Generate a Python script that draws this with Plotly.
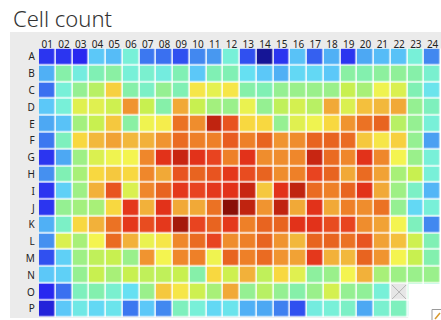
import plotly.graph_objects as go

# Plate layout: 16 rows (A-P) x 24 columns (01-24)
rows = list("ABCDEFGHIJKLMNOP")
cols = [f"{i:02d}" for i in range(1, 25)]

# Cell counts per well, on a 0-100 relative scale (None = empty well)
row_A = [11, 11, 10, 29, 27, 36, 18, 17, 13, 20, 22, 36, 13, 2, 11, 28, 15, 25, 11, 24, 27, 28, 36, 20]
row_B = [25, 42, 35, 40, 43, 36, 37, 35, 40, 29, 40, 40, 32, 29, 25, 31, 31, 29, 43, 41, 44, 45, 42, 37]
row_C = [17, 36, 46, 52, 67, 42, 38, 46, 40, 64, 59, 64, 42, 40, 46, 47, 47, 47, 54, 50, 61, 57, 40, 33]
row_D = [29, 36, 58, 58, 55, 75, 54, 42, 72, 54, 49, 47, 60, 46, 53, 56, 52, 72, 57, 69, 70, 72, 46, 39]
row_E = [24, 28, 49, 54, 68, 43, 61, 63, 80, 76, 94, 84, 66, 66, 46, 58, 61, 66, 75, 80, 82, 52, 46, 36]
row_F = [18, 39, 66, 70, 73, 70, 71, 75, 81, 78, 78, 83, 78, 82, 75, 76, 82, 82, 81, 68, 64, 67, 46, 23]
row_G = [11, 24, 48, 57, 61, 62, 77, 89, 93, 89, 86, 78, 89, 76, 76, 77, 93, 81, 77, 89, 77, 62, 47, 36]
row_H = [21, 40, 50, 66, 68, 66, 77, 72, 84, 82, 84, 88, 85, 82, 76, 78, 86, 82, 72, 81, 73, 50, 54, 36]
row_I = [11, 30, 48, 71, 84, 57, 77, 82, 88, 86, 88, 89, 93, 68, 89, 94, 81, 78, 82, 89, 72, 48, 38, 26]
row_J = [11, 46, 49, 50, 66, 88, 71, 89, 72, 72, 80, 100, 94, 75, 94, 72, 89, 72, 78, 76, 80, 46, 31, 36]
row_K = [25, 38, 66, 71, 80, 88, 85, 88, 97, 86, 82, 88, 78, 82, 82, 89, 89, 85, 86, 76, 73, 62, 39, 20]
row_L = [21, 57, 50, 62, 81, 71, 60, 64, 77, 81, 86, 76, 78, 82, 75, 70, 82, 82, 80, 84, 73, 69, 55, 40]
row_M = [13, 30, 48, 53, 54, 47, 75, 62, 77, 78, 61, 82, 78, 81, 75, 73, 88, 71, 70, 82, 75, 62, 54, 41]
row_N = [29, 30, 46, 54, 50, 54, 53, 53, 54, 42, 66, 55, 71, 53, 66, 58, 44, 47, 62, 71, 50, 48, 47, 47]
row_O = [10, 17, 39, 41, 37, 32, 47, 68, 64, 55, 50, 72, 46, 52, 46, 42, 47, 56, 46, 45, 36, None, 40, 38]
row_P = [8, 29, 34, 31, 33, 18, 29, 20, 39, 36, 31, 33, 25, 24, 19, 13, 35, 36, 38, 24, 37, 39, 36, 30]

counts = [row_A, row_B, row_C, row_D, row_E, row_F, row_G, row_H,
          row_I, row_J, row_K, row_L, row_M, row_N, row_O, row_P]

# Jet-like palette from navy (low) to maroon (high)
jet = [
    [0.00, "#101080"], [0.10, "#2828f0"], [0.13, "#3050f0"], [0.18, "#3c78f0"],
    [0.22, "#4898f0"], [0.25, "#50b0f5"], [0.29, "#5cc8f8"], [0.32, "#66e0f2"],
    [0.36, "#78f0d8"], [0.40, "#80f0b4"], [0.45, "#90f098"], [0.50, "#a8f078"],
    [0.54, "#c8f050"], [0.58, "#e0f050"], [0.62, "#f4f450"], [0.66, "#f8d840"],
    [0.70, "#f2b83c"], [0.74, "#f09a32"], [0.78, "#ee8028"], [0.82, "#e86420"],
    [0.86, "#e84420"], [0.90, "#e02c18"], [0.94, "#c02410"], [1.00, "#8a1008"],
]

W, H = 441, 320
FONT = "Noto Sans"

xi = list(range(len(cols)))
yi = list(range(len(rows)))

fig = go.Figure()

fig.add_trace(go.Heatmap(
    x=xi, y=yi, z=counts,
    colorscale=jet, zmin=0, zmax=100, showscale=False,
    xgap=1.5, ygap=1.5,
    customdata=[[f"{r}{c}" for c in cols] for r in rows],
    hovertemplate="%{customdata}: %{z}<extra></extra>",
))

# Empty wells: grey cell with a cross
empty = [[1 if v is None else None for v in row] for row in counts]
fig.add_trace(go.Heatmap(
    x=xi, y=yi, z=empty,
    colorscale=[[0, "#e6e6e6"], [1, "#e6e6e6"]], showscale=False,
    xgap=1.5, ygap=1.5, hoverinfo="skip",
))
cx, cy = [], []
d = 0.42
for r, row in enumerate(counts):
    for c, v in enumerate(row):
        if v is None:
            cx += [c - d, c + d, None, c - d, c + d, None]
            cy += [r - d, r + d, None, r + d, r - d, None]
fig.add_trace(go.Scatter(x=cx, y=cy, mode="lines",
                         line=dict(color="#b4b4b4", width=1),
                         hoverinfo="skip", showlegend=False))

px = lambda v: v / W
py = lambda v: 1 - v / H

shapes = [
    # grey panel behind the plate
    dict(type="rect", xref="paper", yref="paper", layer="below",
         x0=px(10), x1=1.02, y0=py(318), y1=py(32),
         fillcolor="#ebebeb", line=dict(width=0)),
    # white grid lines between wells
    dict(type="rect", xref="paper", yref="paper", layer="below",
         x0=px(38.8), x1=1.02, y0=py(317.2), y1=py(48.6),
         fillcolor="#ffffff", line=dict(width=0)),
    # floating panel in the lower-right corner
    dict(type="rect", xref="paper", yref="paper", layer="above",
         x0=px(408.2), x1=1.02, y0=-0.02, y1=py(284),
         fillcolor="#ffffff", line=dict(width=0)),
    dict(type="rect", xref="paper", yref="paper", layer="above",
         x0=px(432), x1=px(450), y0=py(330), y1=py(309.5),
         fillcolor="#ffffff", line=dict(color="#9a9a9a", width=1)),
    dict(type="line", xref="paper", yref="paper", layer="above",
         x0=px(435), x1=px(440), y0=py(319), y1=py(313),
         line=dict(color="#d89a30", width=1.5)),
]

fig.update_layout(
    width=W, height=H,
    margin=dict(l=0, r=0, t=0, b=0),
    paper_bgcolor="#ffffff",
    plot_bgcolor="rgba(0,0,0,0)",
    font=dict(family=FONT, color="#222222"),
    showlegend=False,
    shapes=shapes,
    annotations=[dict(
        text="Cell count", xref="paper", yref="paper",
        x=px(11), y=py(18), xanchor="left", yanchor="middle",
        showarrow=False,
        font=dict(family=FONT, size=22, weight=300, color="#333333"),
    )],
    xaxis=dict(
        domain=[px(38.8), 1], range=[-0.5, len(cols) - 0.5],
        side="top", tickmode="array", tickvals=xi, ticktext=cols,
        tickfont=dict(size=10, color="#222222"), ticks="",
        ticklabelstandoff=-2,
        showgrid=False, zeroline=False, showline=False, fixedrange=True,
    ),
    yaxis=dict(
        domain=[py(317.2), py(48.6)], range=[len(rows) - 0.5, -0.5],
        tickmode="array", tickvals=yi, ticktext=rows,
        tickfont=dict(size=10, color="#222222"), ticks="",
        ticklabelstandoff=3,
        showgrid=False, zeroline=False, showline=False, fixedrange=True,
    ),
)

fig.write_html("out.html")
